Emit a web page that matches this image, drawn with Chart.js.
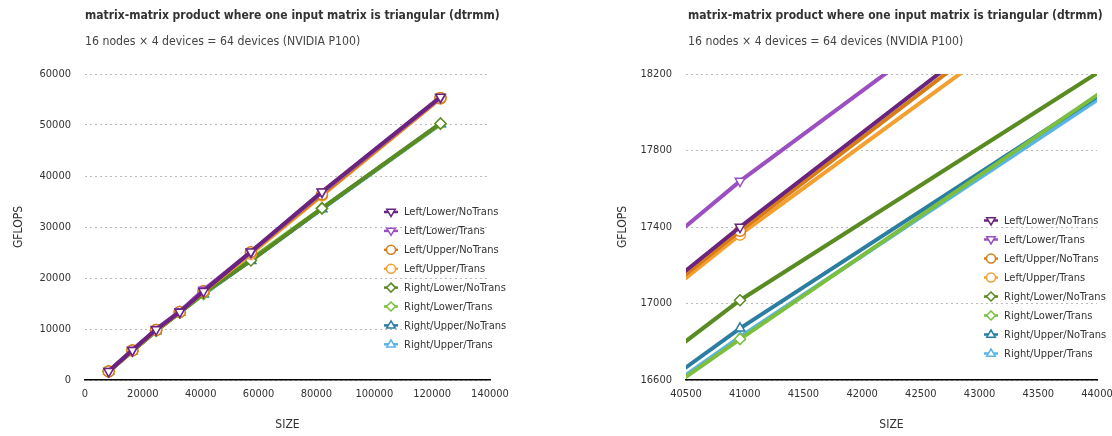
<!DOCTYPE html>
<html>
<head>
<meta charset="utf-8">
<script src="https://cdn.jsdelivr.net/npm/chart.js@4.4.1/dist/chart.umd.min.js"></script>
<style>
  body { margin: 0; width: 1112px; height: 436px; overflow: hidden; background: #fff;
         font-family: "DejaVu Sans Condensed", "Liberation Sans Narrow", sans-serif; }
  .panel { position: absolute; top: 0; width: 556px; height: 436px; }
  .title { position: absolute; top: 8px; font-weight: bold; font-size: 12px; color: #333; white-space: nowrap; }
  .sub { position: absolute; top: 34px; font-size: 12.2px; color: #444; white-space: nowrap; }
</style>
</head>
<body>
<div class="panel" style="left:0"><canvas id="full" width="556" height="436"></canvas></div>
<div class="panel" style="left:556px"><canvas id="zoom" width="556" height="436"></canvas></div>
<div class="title" style="left:85px">matrix-matrix product where one input matrix is triangular (dtrmm)</div>
<div class="sub" style="left:85px">16 nodes × 4 devices = 64 devices (NVIDIA P100)</div>
<div class="title" style="left:688px">matrix-matrix product where one input matrix is triangular (dtrmm)</div>
<div class="sub" style="left:688px">16 nodes × 4 devices = 64 devices (NVIDIA P100)</div>
<script>
const FONT = '"DejaVu Sans Condensed", "Liberation Sans Narrow", sans-serif';

// matrix sizes (x values)
const sizes = [8192, 16384, 24576, 32768, 40960, 57344, 81920, 122880];

// GFLOPS per variant
const leftLowerNoTrans  = [1700, 5850, 9900, 13350, 17400, 25160, 36900, 55500];
const leftLowerTrans    = [1720, 5900, 9950, 13440, 17640, 25070, 36800, 55400];
const leftUpperNoTrans  = [1690, 5800, 9800, 13350, 17380, 25060, 36400, 55300];
const leftUpperTrans    = [1680, 5780, 9780, 13320, 17360, 24720, 36200, 55200];
const rightLowerNoTrans = [1650, 5700, 9650, 13210, 17017, 23420, 33650, 50300];
const rightLowerTrans   = [1640, 5690, 9620, 13310, 16814, 23690, 33700, 50200];
const rightUpperNoTrans = [1650, 5700, 9640, 13240, 16870, 23400, 33600, 50250];
const rightUpperTrans   = [1645, 5690, 9630, 13300, 16825, 23500, 33550, 50150];

const seriesNames = ["Left/Lower/NoTrans", "Left/Lower/Trans", "Left/Upper/NoTrans", "Left/Upper/Trans",
                     "Right/Lower/NoTrans", "Right/Lower/Trans", "Right/Upper/NoTrans", "Right/Upper/Trans"];
const seriesValues = [leftLowerNoTrans, leftLowerTrans, leftUpperNoTrans, leftUpperTrans,
                      rightLowerNoTrans, rightLowerTrans, rightUpperNoTrans, rightUpperTrans];
const seriesColors = ["#6a237f", "#9b4fc0", "#d67d18", "#f4a031",
                      "#5a8a22", "#7cbf3e", "#2b7ea1", "#5cb4e6"];
const seriesMarkers = ["triangle", "triangle", "circle", "circle", "rectRot", "rectRot", "triangle", "triangle"];
const seriesRotation = [180, 180, 0, 0, 0, 0, 0, 0];

function buildDatasets() {
  return seriesNames.map((name, i) => ({
    label: name,
    data: sizes.map((s, j) => ({ x: s, y: seriesValues[i][j] })),
    borderColor: seriesColors[i],
    backgroundColor: "#fff",
    borderWidth: 4,
    pointStyle: seriesMarkers[i],
    rotation: seriesRotation[i],
    pointRadius: 5.5,
    pointBorderWidth: 1.5,
    pointBackgroundColor: "#fff",
    pointBorderColor: seriesColors[i],
  }));
}

// small marker drawer for the legend
function marker(ctx, style, rot, x, y, r) {
  ctx.beginPath();
  if (style === "circle") {
    ctx.arc(x, y, r, 0, Math.PI * 2);
  } else if (style === "rectRot") {
    ctx.moveTo(x, y - r); ctx.lineTo(x + r, y); ctx.lineTo(x, y + r); ctx.lineTo(x - r, y);
    ctx.closePath();
  } else {
    const d = rot === 180 ? -1 : 1;
    ctx.moveTo(x, y - d * r);
    ctx.lineTo(x + r * 0.95, y + d * r * 0.6);
    ctx.lineTo(x - r * 0.95, y + d * r * 0.6);
    ctx.closePath();
  }
  ctx.fill();
  ctx.stroke();
}

const legendPlugin = {
  id: "sideLegend",
  afterDraw(chart, args, opts) {
    const ctx = chart.ctx;
    ctx.save();
    ctx.font = "11px " + FONT;
    ctx.textBaseline = "middle";
    seriesNames.forEach((name, i) => {
      const y = opts.y + i * opts.step;
      ctx.strokeStyle = seriesColors[i];
      ctx.lineWidth = 2.5;
      ctx.beginPath();
      ctx.moveTo(opts.x - 7, y); ctx.lineTo(opts.x + 7, y);
      ctx.stroke();
      ctx.fillStyle = "#fff";
      ctx.lineWidth = 1.5;
      marker(ctx, seriesMarkers[i], seriesRotation[i], opts.x, y, 4.5);
      ctx.fillStyle = "#333";
      ctx.fillText(name, opts.x + 13, y + 0.5);
    });
    ctx.restore();
  }
};

function makeChart(id, xr, yr, padLeft, padRight, yWidth, legendPos) {
  return new Chart(document.getElementById(id), {
    type: "line",
    data: { datasets: buildDatasets() },
    plugins: [legendPlugin],
    options: {
      responsive: false,
      animation: false,
      layout: { padding: { left: padLeft, right: padRight, top: 74, bottom: 0 } },
      plugins: {
        legend: { display: false },
        tooltip: { enabled: false },
        sideLegend: legendPos,
      },
      scales: {
        x: {
          type: "linear", min: xr[0], max: xr[1],
          ticks: { stepSize: xr[2], padding: 8, color: "#333", font: { family: FONT, size: 11 }, maxRotation: 0,
                   callback: v => String(v) },
          grid: { display: false, drawTicks: false },
          border: { display: true, color: "#000", width: 1.5 },
          title: { display: true, text: "SIZE", color: "#333", font: { family: FONT, size: 12 } },
          afterFit: s => { s.height = 56; s.paddingLeft = 0; s.paddingRight = 0; },
        },
        y: {
          type: "linear", min: yr[0], max: yr[1],
          ticks: { stepSize: yr[2], padding: 14, color: "#333", font: { family: FONT, size: 11 },
                   callback: v => String(v) },
          grid: { color: "#bbb", lineWidth: 1, drawTicks: false },
          border: { display: false, dash: [2, 3] },
          title: { display: true, text: "GFLOPS", color: "#333", font: { family: FONT, size: 12 } },
          afterFit: s => { s.width = yWidth; s.paddingTop = 0; s.paddingBottom = 0; },
        },
      },
    },
  });
}

makeChart("full", [0, 140000, 20000], [0, 60000, 10000], 8, 66, 77, { x: 391, y: 212, step: 18.9 });
makeChart("zoom", [40500, 44000, 500], [16600, 18200, 400], 56, 15, 74, { x: 435, y: 220.5, step: 19 });
</script>
</body>
</html>
